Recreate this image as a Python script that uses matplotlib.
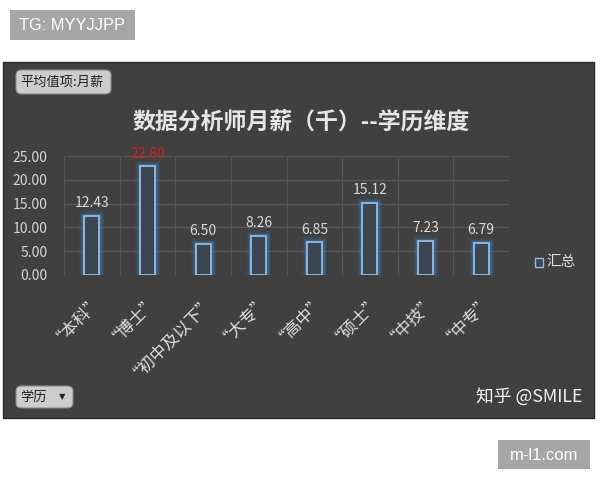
import matplotlib
matplotlib.use("Agg")
import matplotlib.pyplot as plt
from matplotlib.patches import FancyBboxPatch, Rectangle
import numpy as np

plt.rcParams['font.family'] = ['Noto Sans CJK SC', 'DejaVu Sans']

categories = ['“本科”', '“博士”', '“初中及以下”', '“大专”', '“高中”', '“硕士”', '“中技”', '“中专”']
values = [12.43, 22.80, 6.50, 8.26, 6.85, 15.12, 7.23, 6.79]
value_labels = ['12.43', '22.80', '6.50', '8.26', '6.85', '15.12', '7.23', '6.79']
label_colors = ['#d9d9d9', '#d42020', '#d9d9d9', '#d9d9d9', '#d9d9d9', '#d9d9d9', '#d9d9d9', '#d9d9d9']
yticks = [0, 5, 10, 15, 20, 25]
ytick_labels = ['0.00', '5.00', '10.00', '15.00', '20.00', '25.00']
title = '数据分析师月薪（千）--学历维度'
legend_label = '汇总'

W, H = 600, 480
fig = plt.figure(figsize=(6, 4.8), dpi=100)
fig.patch.set_facecolor('white')

def fx(x):
    return x / W

def fy(y):
    return 1 - y / H

# dark panel
panel = Rectangle((fx(3), fy(418)), fx(594) - fx(3), fy(62) - fy(418),
                  transform=fig.transFigure, facecolor='#404040',
                  edgecolor='#2a2a2a', linewidth=1.0, zorder=-5)
fig.patches.append(panel)

# axes
ax = fig.add_axes([fx(64), fy(275), fx(509) - fx(64), fy(156) - fy(275)])
ax.set_zorder(3)
ax.set_facecolor('none')
n = len(categories)
x = np.arange(n)
ax.set_xlim(-0.5, n - 0.5)
ax.set_ylim(0, 25)
for s in ax.spines.values():
    s.set_visible(False)

# gridlines
for yv in yticks:
    ax.axhline(yv, color='#5a5a5a', lw=0.9, zorder=1)
for b in np.arange(-0.5, n, 1.0):
    ax.axvline(b, color='#555555', lw=0.9, zorder=1)

bw = 0.27
# glow layers
for lw, a in [(7, 0.10), (5, 0.16), (3.5, 0.25)]:
    ax.bar(x, values, width=bw, facecolor='none', edgecolor='#3d8fd8',
           linewidth=lw, alpha=a, zorder=2)
ax.bar(x, values, width=bw, facecolor='#3c4550', edgecolor='#8fbfe8',
       linewidth=1.3, zorder=3)

for xi, v, lab, c in zip(x, values, value_labels, label_colors):
    ax.text(xi, v + 1.2, lab, ha='center', va='bottom', fontsize=10,
            color=c, zorder=4)

ax.set_yticks(yticks)
ax.set_yticklabels(ytick_labels, fontsize=10, color='#d6d6d6')
ax.tick_params(axis='y', length=0, pad=12)
ax.set_xticks(x)
ax.set_xticklabels(categories, rotation=45, ha='right', va='top',
                   rotation_mode='anchor', fontsize=12, color='#e0e0e0')
ax.tick_params(axis='x', length=0, pad=8)

# title
fig.text(fx(301), fy(123), title, ha='center', va='center', fontsize=16.5,
         fontweight='bold', color='#e6e6e6')

# legend
fig.patches.append(Rectangle((fx(535), fy(267)), fx(8), fy(258) - fy(267),
                             transform=fig.transFigure, facecolor='#3c4550',
                             edgecolor='#8fbfe8', linewidth=1.0))
fig.text(fx(546), fy(262), legend_label, ha='left', va='center', fontsize=10.5,
         color='#e0e0e0')

# buttons
def button(x0, y0, x1, y1, text, tx, arrow=None):
    p = FancyBboxPatch((fx(x0), fy(y1)), fx(x1) - fx(x0), fy(y0) - fy(y1),
                       boxstyle='round,pad=0,rounding_size=0.01',
                       transform=fig.transFigure, facecolor='#cdcdcd',
                       edgecolor='#8a8a8a', linewidth=0.8)
    fig.patches.append(p)
    fig.text(fx(tx), fy((y0 + y1) / 2), text, ha='left', va='center',
             fontsize=9.5, color='#222222')
    if arrow is not None:
        fig.text(fx(arrow), fy((y0 + y1) / 2), '▼', ha='center', va='center',
                 fontsize=6, color='#222222', family='DejaVu Sans')

button(16, 70, 111, 94, '平均值项:月薪', 20)
button(16, 386, 73, 408, '学历', 20, arrow=62)

# watermark text
fig.text(fx(583), fy(397), '知乎 @SMILE', ha='right', va='center',
         fontsize=12.8, color='#f2f2f2')

# grey label boxes
fig.patches.append(Rectangle((fx(10), fy(40)), fx(125), fy(10) - fy(40),
                             transform=fig.transFigure, facecolor='#a6a6a6',
                             edgecolor='none'))
fig.text(fx(72), fy(25), 'TG: MYYJJPP', ha='center', va='center', fontsize=11.8,
         color='white', family='Liberation Sans')
fig.patches.append(Rectangle((fx(498), fy(469)), fx(92), fy(440) - fy(469),
                             transform=fig.transFigure, facecolor='#a6a6a6',
                             edgecolor='none'))
fig.text(fx(544), fy(455), 'm-l1.com', ha='center', va='center', fontsize=12,
         color='white', family='Liberation Sans')

fig.savefig('out.png', dpi=100, facecolor='white')
